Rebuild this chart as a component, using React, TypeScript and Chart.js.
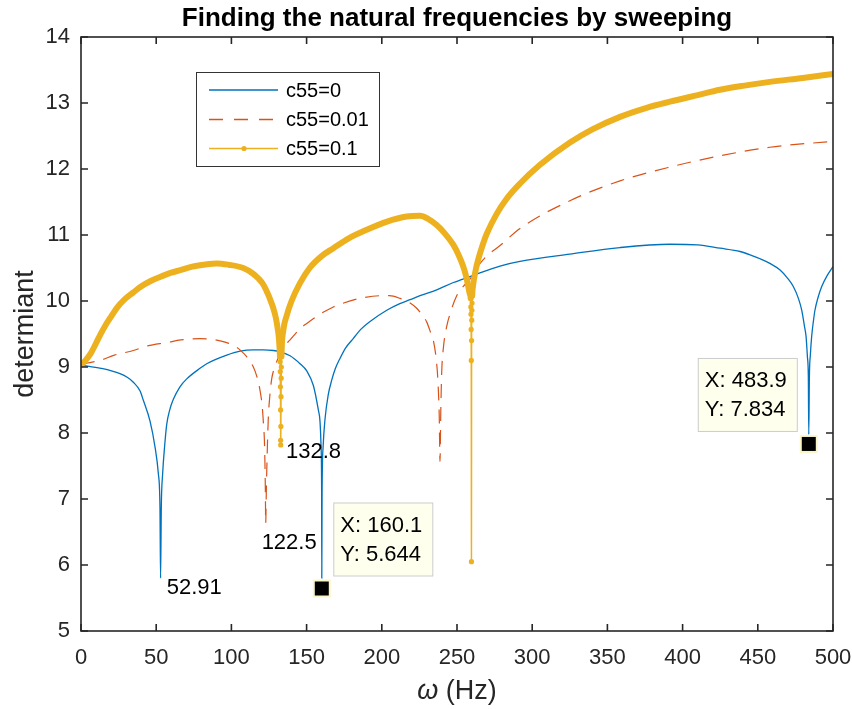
import React, { useEffect, useRef } from 'react';
import { Chart, registerables } from 'chart.js';

Chart.register(...registerables);

// ---------- data ----------
const seriesLabels = ['c55=0', 'c55=0.01', 'c55=0.1'];

const blueX = [0, 13.3, 25.9, 31.0, 34.8, 39.2, 41.4, 45.9, 49.2, 51.4, 52.5, 52.91, 53.4, 54.3, 55.6, 57.0, 59.0, 61.4, 65.8, 70.3, 79.1, 83.6, 96.9, 105.7, 114.6, 121.0, 127.9, 132.3, 139.0, 145.6, 150.1, 154.5, 157.8, 158.9, 159.6, 160.0, 160.1, 160.3, 161.0, 162.2, 164.4, 166.7, 169.0, 172.2, 176.0, 181.0, 186.0, 192.2, 203.3, 212.0, 218.8, 225.4, 236.5, 247.6, 258.6, 278.6, 291.9, 325.0, 358.4, 391.6, 410.0, 424.9, 438.2, 447.0, 451.5, 458.0, 464.8, 470.0, 473.6, 477.0, 479.2, 481.0, 482.1, 483.0, 483.6, 483.9, 484.3, 485.0, 485.8, 487.0, 488.0, 490.0, 492.5, 496.0, 500.0];
const blueY = [9.03, 8.98, 8.90, 8.84, 8.77, 8.64, 8.50, 8.18, 7.79, 7.39, 6.88, 5.80, 6.88, 7.39, 7.80, 8.13, 8.35, 8.51, 8.70, 8.82, 8.98, 9.05, 9.18, 9.24, 9.26, 9.26, 9.25, 9.23, 9.17, 9.05, 8.94, 8.72, 8.35, 8.18, 7.80, 7.10, 5.80, 7.10, 7.80, 8.20, 8.58, 8.80, 8.97, 9.13, 9.29, 9.43, 9.57, 9.69, 9.86, 9.96, 10.02, 10.08, 10.17, 10.28, 10.37, 10.53, 10.60, 10.71, 10.81, 10.86, 10.85, 10.80, 10.75, 10.68, 10.64, 10.57, 10.47, 10.34, 10.22, 10.04, 9.86, 9.62, 9.46, 9.15, 8.85, 7.98, 8.85, 9.20, 9.46, 9.70, 9.86, 10.05, 10.22, 10.38, 10.52];

const redX = [0, 4.4, 12.6, 22.2, 34.8, 44.3, 57.0, 66.5, 79.1, 87.0, 96.9, 102.0, 105.7, 110.0, 114.6, 117.0, 119.0, 120.5, 121.2, 122.0, 122.3, 122.6, 122.8, 123.2, 123.7, 124.5, 125.5, 126.8, 128.5, 130.1, 134.0, 139.0, 145.6, 150.1, 158.9, 167.8, 172.2, 185.5, 198.8, 205.0, 212.1, 218.0, 223.2, 226.5, 229.9, 232.5, 234.3, 236.5, 237.4, 238.2, 238.7, 239.2, 239.8, 240.9, 243.2, 245.3, 249.8, 254.2, 258.6, 263.1, 269.7, 278.6, 291.9, 325.1, 358.4, 391.6, 424.9, 458.0, 500.0];
const redY = [9.03, 9.06, 9.10, 9.18, 9.25, 9.32, 9.37, 9.41, 9.43, 9.42, 9.37, 9.32, 9.26, 9.16, 9.00, 8.85, 8.65, 8.40, 8.18, 7.85, 7.54, 7.10, 6.63, 7.10, 7.60, 8.20, 8.55, 8.82, 8.98, 9.08, 9.28, 9.41, 9.58, 9.66, 9.80, 9.91, 9.95, 10.04, 10.08, 10.08, 10.04, 9.98, 9.89, 9.80, 9.68, 9.52, 9.40, 9.05, 8.75, 8.25, 7.57, 8.30, 8.90, 9.28, 9.62, 9.80, 10.08, 10.22, 10.33, 10.50, 10.68, 10.84, 11.10, 11.52, 11.82, 12.03, 12.20, 12.33, 12.42];

const yellowX = [0, 3.0, 6.6, 10.0, 13.3, 16.5, 19.9, 24.0, 28.8, 34.8, 39.9, 46.0, 53.2, 60.0, 66.5, 74.0, 82.0, 90.2, 98.0, 107.9, 114.0, 118.0, 121.2, 124.0, 126.0, 127.9, 129.5, 130.8, 131.6, 132.3, 132.4, 132.5, 132.6, 132.7, 132.75, 132.8, 132.9, 133.0, 133.1, 133.2, 133.3, 134.5, 136.8, 140.0, 145.6, 152.0, 160.0, 167.8, 178.0, 190.0, 203.0, 216.6, 225.4, 231.0, 236.5, 242.0, 247.6, 251.0, 254.2, 256.0, 257.5, 258.6, 259.1, 259.2, 259.3, 259.4, 259.5, 259.6, 259.7, 259.8, 259.9, 260.0, 260.1, 260.6, 262.0, 264.0, 267.5, 270.0, 276.4, 283.0, 291.9, 305.0, 325.1, 340.0, 358.4, 375.0, 391.6, 410.0, 424.9, 440.0, 458.0, 480.0, 500.0];
const yellowY = [9.03, 9.10, 9.21, 9.36, 9.51, 9.64, 9.76, 9.90, 10.02, 10.13, 10.22, 10.30, 10.37, 10.43, 10.47, 10.52, 10.55, 10.57, 10.55, 10.50, 10.42, 10.34, 10.25, 10.12, 10.01, 9.89, 9.75, 9.58, 9.43, 9.16, 9.08, 8.93, 8.70, 8.35, 7.89, 7.82, 8.10, 8.55, 8.83, 9.00, 9.16, 9.55, 9.78, 10.00, 10.27, 10.50, 10.68, 10.80, 10.95, 11.08, 11.20, 11.28, 11.29, 11.24, 11.15, 11.02, 10.85, 10.70, 10.52, 10.38, 10.22, 10.10, 10.04, 9.91, 9.80, 9.57, 9.10, 6.05, 9.40, 9.71, 9.86, 9.97, 10.08, 10.22, 10.42, 10.62, 10.88, 11.03, 11.32, 11.55, 11.78, 12.06, 12.40, 12.60, 12.79, 12.92, 13.02, 13.12, 13.20, 13.26, 13.32, 13.38, 13.44];

const xTickValues = [0, 50, 100, 150, 200, 250, 300, 350, 400, 450, 500];
const yTickValues = [5, 6, 7, 8, 9, 10, 11, 12, 13, 14];

const peakLabelX = [57.0, 120.1, 136.3];
const peakLabelY = [5.65, 6.33, 7.72];
const peakLabelText = ['52.91', '122.5', '132.8'];

const tipX = [160.1, 483.9];
const tipY = [5.644, 7.834];
const tipSide = ['right', 'left'];

const TITLE = 'Finding the natural frequencies by sweeping';
const Y_TITLE = 'determiant';

// ---------- styling ----------
const FONT = "'Liberation Sans', Arial, Helvetica, sans-serif";
const AXIS_COLOR = '#262626';
const COLORS = ['#0072BD', '#D95319', '#EDB120'];

const toXY = (xs: number[], ys: number[]) => xs.map((x, i) => ({ x, y: ys[i] }));

const isDense = (i: number) =>
  (i > 0 && yellowX[i] - yellowX[i - 1] < 0.15) ||
  (i < yellowX.length - 1 && yellowX[i + 1] - yellowX[i] < 0.15);

const overlayPlugin = {
  id: 'matlabOverlay',
  afterDraw(chart: any) {
    const { ctx, chartArea: a, scales } = chart;
    const xs = scales.x;
    const ys = scales.y;
    ctx.save();

    // axes box + inward ticks
    ctx.strokeStyle = AXIS_COLOR;
    ctx.lineWidth = 1.6;
    ctx.strokeRect(a.left, a.top, a.right - a.left, a.bottom - a.top);
    ctx.beginPath();
    const tl = 7;
    for (const v of xTickValues) {
      const px = xs.getPixelForValue(v);
      ctx.moveTo(px, a.bottom);
      ctx.lineTo(px, a.bottom - tl);
      ctx.moveTo(px, a.top);
      ctx.lineTo(px, a.top + tl);
    }
    for (const v of yTickValues) {
      const py = ys.getPixelForValue(v);
      ctx.moveTo(a.left, py);
      ctx.lineTo(a.left + tl, py);
      ctx.moveTo(a.right, py);
      ctx.lineTo(a.right - tl, py);
    }
    ctx.stroke();

    // title
    ctx.fillStyle = '#000';
    ctx.font = `bold 26px ${FONT}`;
    ctx.textAlign = 'center';
    ctx.textBaseline = 'alphabetic';
    ctx.fillText(TITLE, (a.left + a.right) / 2, 26);

    // y title
    ctx.save();
    ctx.translate(33, (a.top + a.bottom) / 2);
    ctx.rotate(-Math.PI / 2);
    ctx.fillStyle = AXIS_COLOR;
    ctx.font = `27px ${FONT}`;
    ctx.textAlign = 'center';
    ctx.textBaseline = 'alphabetic';
    ctx.fillText(Y_TITLE, 0, 0);
    ctx.restore();

    // x title: italic omega + (Hz)
    ctx.fillStyle = AXIS_COLOR;
    const omegaFont = `italic 27px ${FONT}`;
    const restFont = `27px ${FONT}`;
    ctx.font = omegaFont;
    const wO = ctx.measureText('ω').width;
    ctx.font = restFont;
    const rest = ' (Hz)';
    const wR = ctx.measureText(rest).width;
    const cx = (a.left + a.right) / 2;
    const x0 = cx - (wO + wR) / 2;
    ctx.textAlign = 'left';
    ctx.textBaseline = 'alphabetic';
    ctx.font = omegaFont;
    ctx.fillText('ω', x0, 699);
    ctx.font = restFont;
    ctx.fillText(rest, x0 + wO, 699);

    // legend
    const lx = 196, ly = 72, lw = 183, lh = 94;
    ctx.fillStyle = '#fff';
    ctx.fillRect(lx, ly, lw, lh);
    ctx.strokeStyle = '#333';
    ctx.lineWidth = 1;
    ctx.strokeRect(lx + 0.5, ly + 0.5, lw, lh);
    const rows = [90, 119.5, 148.5];
    seriesLabels.forEach((lab, i) => {
      const y = rows[i];
      ctx.strokeStyle = COLORS[i];
      ctx.lineWidth = 1.3;
      ctx.setLineDash(i === 1 ? [14, 11] : []);
      ctx.beginPath();
      ctx.moveTo(209, y);
      ctx.lineTo(278, y);
      ctx.stroke();
      ctx.setLineDash([]);
      if (i === 2) {
        ctx.fillStyle = COLORS[i];
        ctx.beginPath();
        ctx.arc(244, y, 2.6, 0, Math.PI * 2);
        ctx.fill();
      }
      ctx.fillStyle = '#000';
      ctx.font = `20px ${FONT}`;
      ctx.textAlign = 'left';
      ctx.textBaseline = 'middle';
      ctx.fillText(lab, 286, y + 1);
    });

    // peak labels
    ctx.fillStyle = '#000';
    ctx.font = `22px ${FONT}`;
    ctx.textAlign = 'left';
    ctx.textBaseline = 'middle';
    peakLabelText.forEach((t, i) => {
      ctx.fillText(t, xs.getPixelForValue(peakLabelX[i]), ys.getPixelForValue(peakLabelY[i]));
    });

    // data tips
    tipX.forEach((xv, i) => {
      const px = xs.getPixelForValue(xv);
      const py = ys.getPixelForValue(tipY[i]);
      ctx.fillStyle = '#FAF6C8';
      ctx.fillRect(px - 9, py - 9, 18, 18);
      ctx.fillStyle = '#000';
      ctx.fillRect(px - 7, py - 7, 14, 14);
      const bw = 99, bh = 73;
      const bx = tipSide[i] === 'right' ? px + 11.5 : px - 12 - bw;
      const by = py - 13 - bh;
      ctx.fillStyle = '#FFFFEE';
      ctx.fillRect(bx, by, bw, bh);
      ctx.strokeStyle = '#CCCCCC';
      ctx.lineWidth = 1;
      ctx.strokeRect(bx + 0.5, by + 0.5, bw, bh);
      ctx.fillStyle = '#000';
      ctx.font = `22px ${FONT}`;
      ctx.textAlign = 'left';
      ctx.textBaseline = 'middle';
      ctx.fillText(`X: ${xv}`, bx + 7, by + 23);
      ctx.fillText(`Y: ${tipY[i]}`, bx + 7, by + 52);
    });

    ctx.restore();
  },
};

export default function App() {
  const ref = useRef<HTMLCanvasElement>(null);

  useEffect(() => {
    const canvas = ref.current;
    if (!canvas) return;
    const chart = new Chart(canvas, {
      type: 'scatter',
      data: {
        datasets: [
          {
            label: seriesLabels[0],
            data: toXY(blueX, blueY),
            showLine: true,
            borderColor: COLORS[0],
            borderWidth: 1.3,
            pointRadius: 0,
            cubicInterpolationMode: 'monotone',
            order: 2,
          },
          {
            label: seriesLabels[1],
            data: toXY(redX, redY),
            showLine: true,
            borderColor: COLORS[1],
            borderWidth: 1.2,
            borderDash: [14, 9],
            pointRadius: 0,
            cubicInterpolationMode: 'monotone',
            order: 1,
          },
          {
            label: seriesLabels[2],
            data: toXY(yellowX, yellowY),
            showLine: true,
            borderColor: COLORS[2],
            borderWidth: 6,
            borderCapStyle: 'round',
            borderJoinStyle: 'round',
            pointRadius: (c: any) => (isDense(c.dataIndex) ? 2.6 : 0),
            pointBackgroundColor: COLORS[2],
            pointBorderWidth: 0,
            cubicInterpolationMode: 'monotone',
            order: 0,
            segment: {
              borderWidth: (c: any) =>
                yellowX[c.p1DataIndex] - yellowX[c.p0DataIndex] < 0.15 ? 1.5 : 6,
            },
          } as any,
        ],
      },
      options: {
        responsive: true,
        maintainAspectRatio: false,
        animation: false,
        events: [],
        layout: { padding: { top: 37, right: 19, left: 0, bottom: 0 } },
        plugins: {
          legend: { display: false },
          title: { display: false },
          tooltip: { enabled: false },
        },
        scales: {
          x: {
            type: 'linear',
            min: 0,
            max: 500,
            grid: { display: false, drawTicks: false },
            border: { display: false },
            ticks: {
              stepSize: 50,
              autoSkip: false,
              maxRotation: 0,
              padding: 14,
              color: AXIS_COLOR,
              font: { family: FONT, size: 22 },
            },
            afterFit: (s: any) => {
              s.height = 78;
              s.paddingLeft = 0;
              s.paddingRight = 0;
            },
          },
          y: {
            type: 'linear',
            min: 5,
            max: 14,
            grid: { display: false, drawTicks: false },
            border: { display: false },
            ticks: {
              stepSize: 1,
              autoSkip: false,
              padding: 11,
              color: AXIS_COLOR,
              font: { family: FONT, size: 22 },
            },
            afterFit: (s: any) => {
              s.width = 81;
              s.paddingTop = 0;
              s.paddingBottom = 0;
            },
          },
        },
      },
      plugins: [overlayPlugin],
    });
    return () => chart.destroy();
  }, []);

  return (
    <div style={{ position: 'fixed', left: 0, top: 0, width: 852, height: 709, background: '#fff' }}>
      <canvas ref={ref} />
    </div>
  );
}
